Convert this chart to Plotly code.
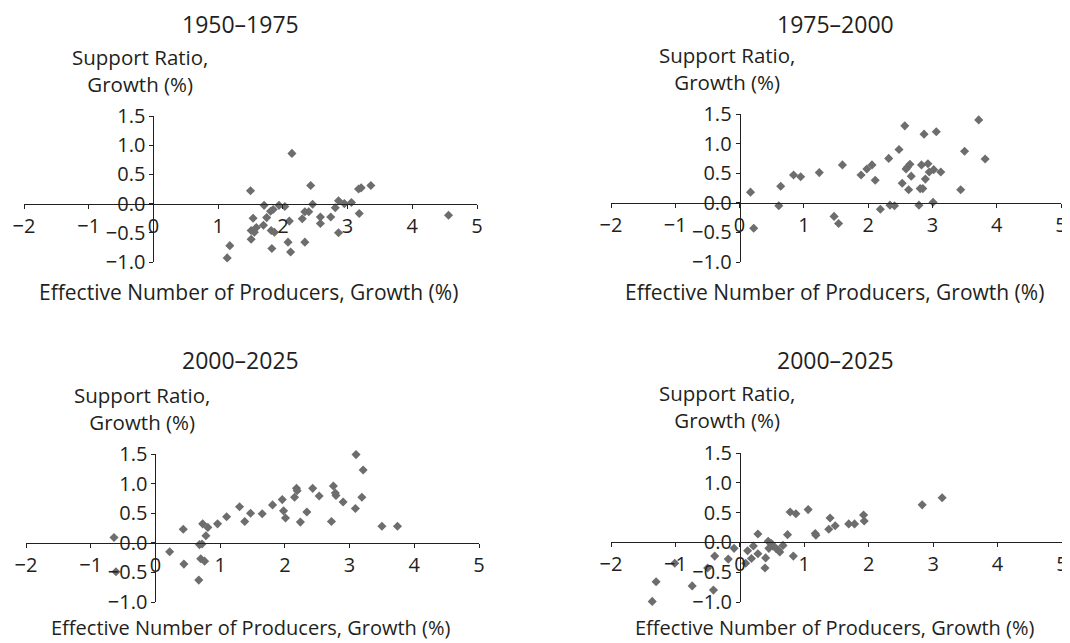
import plotly.graph_objects as go

# the page body keeps its default 8px margin, so the figure is drawn
# 8px in from the window corner; positions below are window pixels
W, H = 1070, 643
OFFSET = 8
FONT = "Open Sans"
TEXT_COL = "#231f20"
MARKER_COL = "#6d6d6d"

TITLES = ["1950\u20131975", "1975\u20132000", "2000\u20132025", "2000\u20132025"]
Y_TITLE = "Support Ratio,<br>Growth (%)"
X_TITLE = "Effective Number of Producers, Growth (%)"

X_TICKS = [-2, -1, 0, 1, 2, 3, 4, 5]
X_TICK_TEXT = ["\u22122", "\u22121", "0", "1", "2", "3", "4", "5"]
Y_TICKS = [-1.0, -0.5, 0.0, 0.5, 1.0, 1.5]
Y_TICK_TEXT = ["\u22121.0", "\u22120.5", "0.0", "0.5", "1.0", "1.5"]

# 1950-1975
x_1950 = [1.14, 1.18, 1.50, 1.54, 1.51, 1.56, 1.59, 1.51, 1.71, 1.70, 1.75, 1.81, 1.85, 1.82,
          1.87, 1.83, 1.94, 2.03, 2.10, 2.14, 2.08, 2.12, 2.30, 2.34, 2.40, 2.43, 2.46, 2.34,
          2.58, 2.58, 2.74, 2.81, 2.86, 2.86, 2.95, 3.06, 3.17, 3.21, 3.18, 3.36, 4.56]
y_1950 = [-0.93, -0.72, 0.22, -0.25, -0.46, -0.49, -0.41, -0.61, -0.03, -0.37, -0.24, -0.13,
          -0.10, -0.46, -0.49, -0.77, -0.03, -0.05, -0.30, 0.86, -0.66, -0.83, -0.26, -0.14,
          -0.14, 0.31, -0.01, -0.66, -0.23, -0.34, -0.23, -0.07, 0.05, -0.50, 0.00, 0.02,
          0.25, 0.27, -0.17, 0.31, -0.20]

# 1975-2000
x_1975 = [0.17, 0.22, 0.61, 0.64, 0.84, 0.95, 1.24, 1.47, 1.54, 1.60, 1.89, 1.98, 2.06, 2.11,
          2.19, 2.32, 2.34, 2.41, 2.48, 2.57, 2.53, 2.59, 2.61, 2.65, 2.63, 2.67, 2.79, 2.81,
          2.83, 2.85, 2.87, 2.89, 2.93, 2.95, 3.01, 3.02, 3.06, 3.13, 3.44, 3.50, 3.72, 3.82]
y_1975 = [0.18, -0.43, -0.05, 0.28, 0.47, 0.44, 0.51, -0.23, -0.35, 0.64, 0.47, 0.57, 0.64,
          0.38, -0.11, 0.75, -0.04, -0.05, 0.90, 1.30, 0.33, 0.57, 0.60, 0.65, 0.22, 0.45,
          -0.04, 0.24, 0.64, 0.24, 1.16, 0.40, 0.66, 0.52, 0.01, 0.56, 1.20, 0.52, 0.22, 0.87,
          1.40, 0.74]

# 2000-2025 (left)
x_2000a = [-0.64, -0.61, 0.22, 0.43, 0.44, 0.68, 0.72, 0.67, 0.70, 0.76, 0.73, 0.78, 0.81,
           0.96, 1.10, 1.30, 1.38, 1.47, 1.65, 1.81, 1.96, 1.98, 2.01, 2.15, 2.18, 2.19, 2.24,
           2.34, 2.43, 2.53, 2.72, 2.75, 2.78, 2.79, 2.90, 3.09, 3.10, 3.21, 3.19, 3.50, 3.74]
y_2000a = [0.09, -0.49, -0.15, 0.23, -0.36, -0.03, -0.02, -0.63, -0.27, -0.31, 0.32, 0.12,
           0.26, 0.32, 0.44, 0.61, 0.36, 0.50, 0.49, 0.64, 0.73, 0.54, 0.42, 0.77, 0.92, 0.88,
           0.35, 0.52, 0.92, 0.79, 0.36, 0.96, 0.84, 0.80, 0.69, 0.58, 1.49, 1.23, 0.77, 0.28,
           0.28]

# 2000-2025 (right)
x_2000b = [-1.36, -1.30, -1.01, -0.74, -0.50, -0.41, -0.39, -0.18, -0.09, 0.09, 0.12, 0.18,
           0.21, 0.28, 0.28, 0.39, 0.40, 0.44, 0.45, 0.49, 0.51, 0.56, 0.60, 0.62, 0.67, 0.74,
           0.78, 0.83, 0.87, 1.06, 1.17, 1.18, 1.38, 1.40, 1.48, 1.69, 1.78, 1.93, 1.92, 2.83,
           3.14]
y_2000b = [-0.99, -0.66, -0.35, -0.73, -0.43, -0.80, -0.23, -0.28, -0.10, -0.35, -0.14, -0.27,
           -0.06, -0.19, 0.14, -0.43, -0.26, 0.02, -0.10, -0.02, -0.06, -0.10, -0.13, -0.16,
           -0.05, 0.13, 0.51, -0.23, 0.48, 0.55, 0.15, 0.12, 0.22, 0.41, 0.28, 0.31, 0.31, 0.36,
           0.46, 0.63, 0.75]

SERIES = [(x_1950, y_1950), (x_1975, y_1975), (x_2000a, y_2000a), (x_2000b, y_2000b)]

# pixel boxes of each panel: (left, right, top, bottom) of the axis lines
PANELS = [
    (24, 477, 116, 262),
    (611, 1061, 114, 262),
    (26, 479, 454, 602),
    (611, 1062, 453, 602),
]
TITLE_X = [240, 835, 240, 835]
TITLE_Y = [24, 24, 360, 360]
X_RANGE = [-2, 5]
Y_RANGE = [-1.0, 1.5]

FIG_W, FIG_H = W - OFFSET, H - OFFSET


def px_x(p):
    return (p - OFFSET) / FIG_W


def px_y(p):
    return 1 - (p - OFFSET) / FIG_H


fig = go.Figure()
layout = {}
annotations = []

for i, ((xs, ys), (left, right, top, bottom)) in enumerate(zip(SERIES, PANELS)):
    n = "" if i == 0 else str(i + 1)
    fig.add_trace(
        go.Scatter(
            x=xs,
            y=ys,
            mode="markers",
            marker=dict(symbol="diamond", size=7, color=MARKER_COL),
            xaxis="x" + n,
            yaxis="y" + n,
            cliponaxis=False,
            showlegend=False,
        )
    )

    # where the zero lines sit, so the axes cross at the origin
    zero_x = left + (0 - X_RANGE[0]) / (X_RANGE[1] - X_RANGE[0]) * (right - left)
    zero_y = top + (Y_RANGE[1] - 0) / (Y_RANGE[1] - Y_RANGE[0]) * (bottom - top)

    common = dict(
        showgrid=False,
        zeroline=False,
        showline=True,
        linecolor=TEXT_COL,
        linewidth=1,
        ticks="outside",
        ticklen=4,
        tickcolor=TEXT_COL,
        tickfont=dict(family=FONT, size=20, color=TEXT_COL),
        anchor="free",
        automargin=False,
    )
    layout["xaxis" + n] = dict(
        common,
        domain=[px_x(left), px_x(right)],
        range=X_RANGE,
        tickvals=X_TICKS,
        ticktext=X_TICK_TEXT,
        position=px_y(zero_y),
    )
    layout["yaxis" + n] = dict(
        common,
        domain=[px_y(bottom), px_y(top)],
        range=Y_RANGE,
        tickvals=Y_TICKS,
        ticktext=Y_TICK_TEXT,
        position=px_x(zero_x),
    )

    mid = (left + right) / 2
    annotations.append(dict(
        text=TITLES[i], x=px_x(TITLE_X[i]), y=px_y(TITLE_Y[i]), yanchor="middle",
        font=dict(size=23),
    ))
    annotations.append(dict(
        text=Y_TITLE, x=px_x(zero_x - 13), y=px_y(top - 46), yanchor="middle",
        font=dict(size=20.5),
    ))
    if i < 2:
        annotations.append(dict(
            text=X_TITLE, x=px_x(mid - 2), y=px_y(bottom + 30), yanchor="middle",
            font=dict(size=21),
        ))
    else:
        # bottom row: title sits on the lower edge of the picture
        annotations.append(dict(
            text=X_TITLE, x=px_x(mid - 2), y=0, yanchor="bottom",
            font=dict(size=20),
        ))

for a in annotations:
    a.update(xref="paper", yref="paper", showarrow=False, xanchor="center")
    a["font"].update(family=FONT, color=TEXT_COL)

fig.update_layout(
    width=FIG_W,
    height=FIG_H,
    margin=dict(l=0, r=0, t=0, b=0),
    paper_bgcolor="white",
    plot_bgcolor="white",
    annotations=annotations,
    **layout,
)

fig.write_html("out.html")
